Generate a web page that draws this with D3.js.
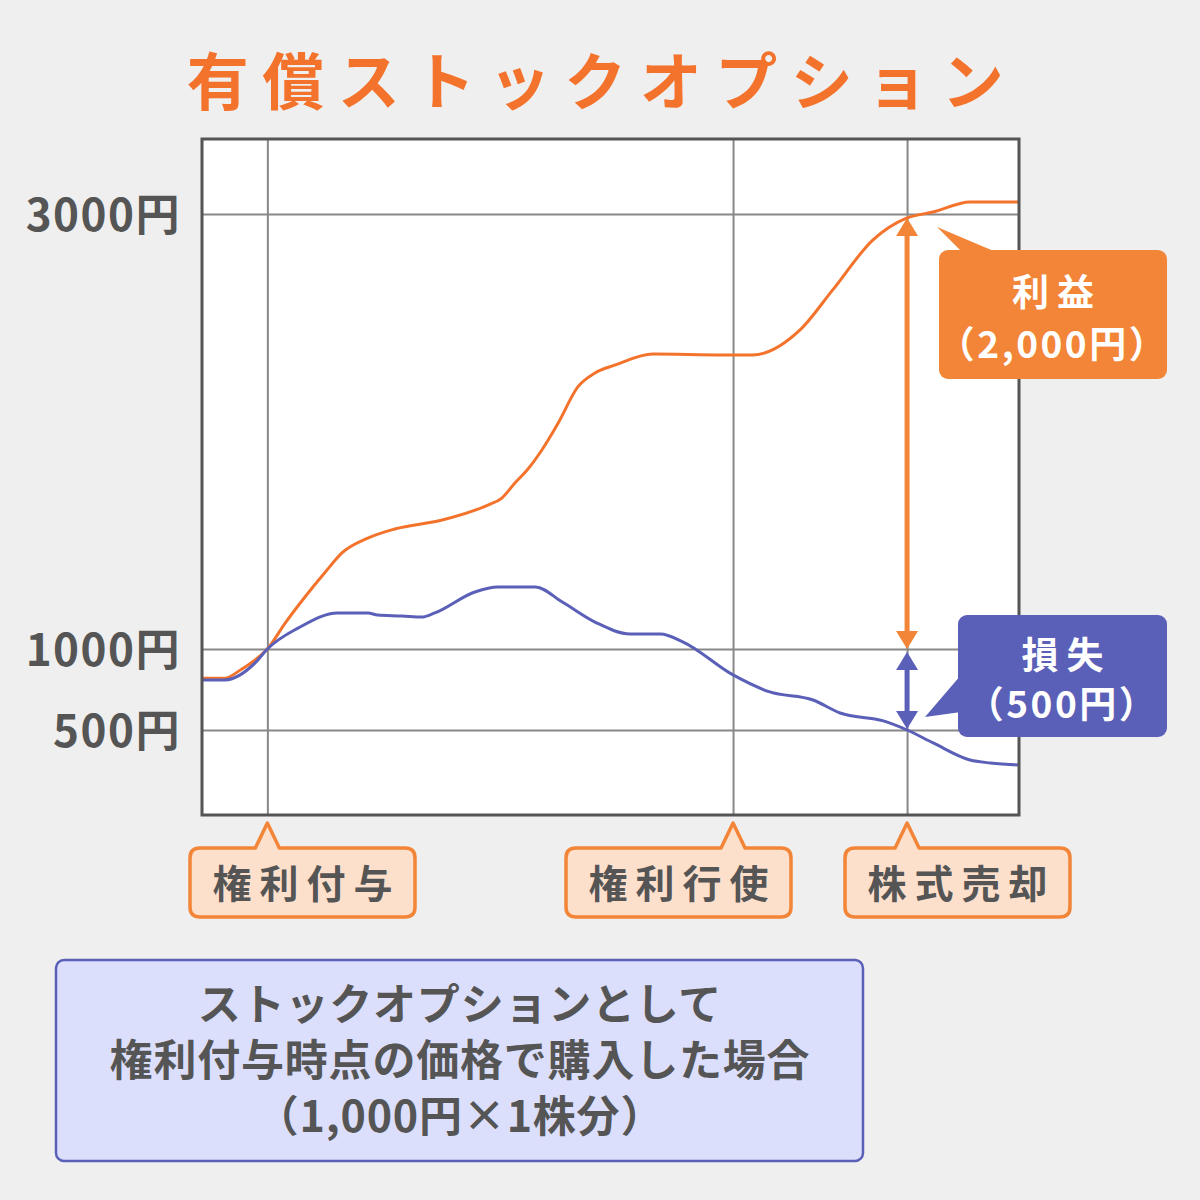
<!DOCTYPE html>
<html>
<head>
<meta charset="utf-8">
<script src="https://cdn.jsdelivr.net/npm/d3@7"></script>
<style>
  body { margin: 0; background: #efefef; }
</style>
</head>
<body>
<div id="chart"></div>
<script>
// price path when the stock rises (orange) and when it falls (blue)
const gainT = [0, 2.8, 4.7, 6.5, 8, 10.2, 12.6, 15.1, 17.1, 20.3, 23.6, 29.4, 35, 36.7, 38.3, 39.8, 41.6, 43.6, 46, 48.1, 50.6, 55.2, 63.8, 67.4, 73.2, 77.2, 82.1, 86.3, 89.5, 94, 100];
const gainV = [820, 820, 870, 932, 1000, 1120, 1239, 1354, 1441, 1510, 1552, 1593, 1662, 1694, 1763, 1823, 1915, 2039, 2205, 2269, 2306, 2356, 2352, 2352, 2467, 2651, 2880, 2982, 3009, 3055, 3055];
const lossT = [0, 2.8, 6.5, 8, 11.8, 16.6, 20.3, 21.5, 24.5, 26.9, 28.5, 33.4, 36.2, 40.8, 44.1, 48.1, 52.4, 56.1, 58.9, 65, 69.5, 74.8, 78.1, 83.4, 86.3, 89.5, 94, 96.5, 100];
const lossV = [809, 809, 914, 1000, 1097, 1166, 1166, 1156, 1152, 1147, 1166, 1262, 1285, 1285, 1216, 1124, 1069, 1069, 1032, 840, 735, 685, 605, 556, 500, 420, 315, 296, 284];

const yTicks = [500, 1000, 3000];
const yTickLabels = ["500円", "1000円", "3000円"];
const eventT = [8, 65, 86.3];
const eventLabels = ["権利付与", "権利行使", "株式売却"];

const title = "有償ストックオプション";
const gainLabel = ["利益", "（2,000円）"];
const lossLabel = ["損失", "（500円）"];
const noteLines = ["ストックオプションとして", "権利付与時点の価格で購入した場合", "（1,000円×1株分）"];

const W = 1200, H = 1200;
const ORANGE = "#f4732c", BOX_ORANGE = "#f28537", BLUE = "#5a5fb8", TEXT = "#555555";
const plot = { left: 202, top: 139, right: 1019, bottom: 815 };

const svg = d3.select("#chart").append("svg")
  .attr("width", W)
  .attr("height", H)
  .style("display", "block")
  .style("font-family", '"Noto Sans CJK JP", "Noto Sans", sans-serif')
  .style("font-weight", "bold");

svg.append("rect").attr("width", W).attr("height", H).attr("fill", "#efefef");

const x = d3.scaleLinear().domain([0, 100]).range([plot.left, plot.right]);
// the picture squeezes the part under 1000円
const y = d3.scaleLinear().domain([500, 1000, 3000]).range([730, 649, 214]);

// title
svg.append("text")
  .attr("x", 602).attr("y", 78)
  .attr("text-anchor", "middle")
  .attr("dominant-baseline", "central")
  .attr("fill", ORANGE)
  .attr("font-size", 62)
  .attr("letter-spacing", 13.5)
  .text(title);

// plot background
svg.append("rect")
  .attr("x", plot.left).attr("y", plot.top)
  .attr("width", plot.right - plot.left).attr("height", plot.bottom - plot.top)
  .attr("fill", "#fff");

// grid
svg.append("g")
  .attr("transform", `translate(${plot.left},0)`)
  .call(d3.axisLeft(y).tickValues(yTicks).tickSize(-(plot.right - plot.left)).tickFormat(""))
  .call(g => g.select(".domain").remove())
  .call(g => g.selectAll(".tick line").attr("stroke", "#888").attr("stroke-width", 2));

svg.append("g")
  .attr("transform", `translate(0,${plot.bottom})`)
  .call(d3.axisBottom(x).tickValues(eventT).tickSize(-(plot.bottom - plot.top)).tickFormat(""))
  .call(g => g.select(".domain").remove())
  .call(g => g.selectAll(".tick line").attr("stroke", "#888").attr("stroke-width", 2));

// y labels
svg.append("g")
  .attr("transform", `translate(181,0)`)
  .call(d3.axisLeft(y).tickValues(yTicks).tickSize(0).tickPadding(0)
    .tickFormat((d, i) => yTickLabels[i]))
  .call(g => g.select(".domain").remove())
  .call(g => g.selectAll("text")
    .attr("fill", TEXT)
    .attr("font-size", 44)
    .attr("letter-spacing", 1.5)
    .attr("font-family", '"Noto Sans CJK JP", sans-serif')
    .attr("font-weight", "bold")
    .attr("dy", -3)
    .attr("dominant-baseline", "central"));

// lines
const line = d3.line().x(d => x(d[0])).y(d => y(d[1])).curve(d3.curveMonotoneX);
svg.append("path")
  .attr("d", line(d3.zip(gainT, gainV)))
  .attr("fill", "none").attr("stroke", ORANGE).attr("stroke-width", 3);
svg.append("path")
  .attr("d", line(d3.zip(lossT, lossV)))
  .attr("fill", "none").attr("stroke", BLUE).attr("stroke-width", 3);

// plot border
svg.append("rect")
  .attr("x", plot.left).attr("y", plot.top)
  .attr("width", plot.right - plot.left).attr("height", plot.bottom - plot.top)
  .attr("fill", "none").attr("stroke", "#555").attr("stroke-width", 3);

// arrows at the sale point
const sellT = eventT[2];
const sellX = x(sellT);
const gainAtSell = gainV[gainT.indexOf(sellT)];
const lossAtSell = lossV[lossT.indexOf(sellT)];
const buyPrice = 1000;

function head(px, tipY, dir, color) {
  // dir = -1 points up, 1 points down
  const hw = 11, hh = 18;
  svg.append("path")
    .attr("d", `M${px},${tipY}L${px - hw},${tipY - dir * hh}L${px + hw},${tipY - dir * hh}Z`)
    .attr("fill", color);
}

svg.append("line")
  .attr("x1", sellX).attr("x2", sellX)
  .attr("y1", y(gainAtSell) + 10).attr("y2", y(buyPrice) - 10)
  .attr("stroke", BOX_ORANGE).attr("stroke-width", 5);
head(sellX, y(gainAtSell), -1, BOX_ORANGE);
head(sellX, y(buyPrice), 1, BOX_ORANGE);

svg.append("line")
  .attr("x1", sellX).attr("x2", sellX)
  .attr("y1", y(buyPrice) + 14).attr("y2", y(lossAtSell) - 12)
  .attr("stroke", BLUE).attr("stroke-width", 5);
head(sellX, y(buyPrice) + 3, -1, BLUE);
head(sellX, y(lossAtSell) - 1, 1, BLUE);

// callouts
function callout(box, pointer, color, lines) {
  svg.append("path").attr("d", "M" + pointer.join("L") + "Z").attr("fill", color);
  svg.append("rect")
    .attr("x", box.x).attr("y", box.y).attr("width", box.w).attr("height", box.h)
    .attr("rx", 9).attr("fill", color);
  const cx = box.x + box.w / 2;
  svg.append("text")
    .attr("x", cx + 4).attr("y", box.y + box.h * 0.31)
    .attr("text-anchor", "middle").attr("dominant-baseline", "central")
    .attr("fill", "#fff").attr("font-size", 37).attr("letter-spacing", 8)
    .text(lines[0]);
  svg.append("text")
    .attr("x", cx).attr("y", box.y + box.h * 0.71)
    .attr("text-anchor", "middle").attr("dominant-baseline", "central")
    .attr("fill", "#fff").attr("font-size", 37).attr("letter-spacing", 2.5)
    .text(lines[1]);
}

callout({ x: 939, y: 250, w: 228, h: 129 },
  [[937, 227], [962, 252], [996, 252]], BOX_ORANGE, gainLabel);
callout({ x: 958, y: 615, w: 209, h: 122 },
  [[925, 717], [961, 675], [961, 712]], BLUE, lossLabel);

// event labels under the plot
const labelW = 225, labelH = 69, labelTop = 848;
const labelLeft = [190, 566, 845];
eventT.forEach((t, i) => {
  const px = x(t);
  const g = svg.append("g");
  const bx = labelLeft[i];
  const d = `M${bx + 10},${labelTop}` +
    `L${px - 12},${labelTop}L${px},${plot.bottom + 8}L${px + 12},${labelTop}` +
    `L${bx + labelW - 10},${labelTop}Q${bx + labelW},${labelTop} ${bx + labelW},${labelTop + 10}` +
    `L${bx + labelW},${labelTop + labelH - 10}Q${bx + labelW},${labelTop + labelH} ${bx + labelW - 10},${labelTop + labelH}` +
    `L${bx + 10},${labelTop + labelH}Q${bx},${labelTop + labelH} ${bx},${labelTop + labelH - 10}` +
    `L${bx},${labelTop + 10}Q${bx},${labelTop} ${bx + 10},${labelTop}Z`;
  g.append("path").attr("d", d)
    .attr("fill", "#fde0cc").attr("stroke", BOX_ORANGE).attr("stroke-width", 3.5)
    .attr("stroke-linejoin", "round");
  g.append("text")
    .attr("x", bx + labelW / 2 + 4).attr("y", labelTop + labelH / 2 - 2)
    .attr("text-anchor", "middle").attr("dominant-baseline", "central")
    .attr("fill", TEXT).attr("font-size", 39).attr("letter-spacing", 8)
    .text(eventLabels[i]);
});

// note box
svg.append("rect")
  .attr("x", 56).attr("y", 960).attr("width", 807).attr("height", 201)
  .attr("rx", 8).attr("fill", "#dcdffc").attr("stroke", BLUE).attr("stroke-width", 2.5);
svg.append("g").selectAll("text")
  .data(noteLines)
  .join("text")
  .attr("x", 460)
  .attr("y", (d, i) => 1001 + i * 56)
  .attr("text-anchor", "middle").attr("dominant-baseline", "central")
  .attr("fill", TEXT).attr("font-size", 43).attr("letter-spacing", 0.8)
  .text(d => d);
</script>
</body>
</html>
